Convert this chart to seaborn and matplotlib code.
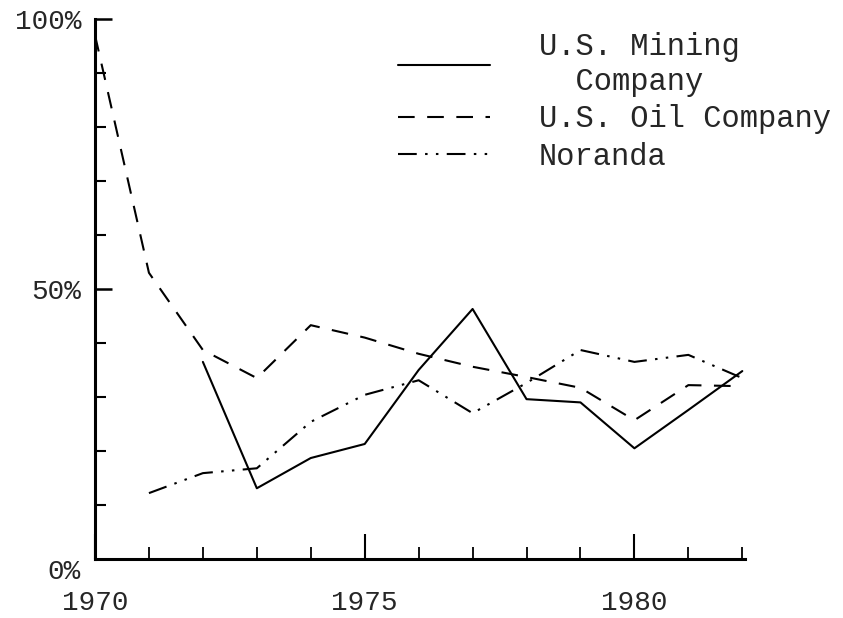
import numpy as np
import pandas as pd
import matplotlib
matplotlib.use("Agg")
import matplotlib.pyplot as plt
from matplotlib.ticker import MultipleLocator, FixedLocator
import seaborn as sns

# values (percent)
MINING_YEARS = [1972, 1973, 1974, 1975, 1976, 1977, 1978, 1979, 1980, 1981, 1982]
MINING = [36.5, 13.1, 18.7, 21.3, 35.0, 46.3, 29.6, 29.0, 20.5, 27.6, 34.8]

OIL_YEARS = [1970, 1971, 1972, 1973, 1974, 1975, 1976, 1977, 1978, 1979, 1980, 1981, 1982]
OIL = [97.0, 53.0, 38.7, 33.5, 43.3, 41.0, 38.0, 35.6, 33.7, 31.7, 25.7, 32.2, 32.0]

NORANDA_YEARS = [1971, 1972, 1973, 1974, 1975, 1976, 1977, 1978, 1979, 1980, 1981, 1982]
NORANDA = [12.2, 15.9, 16.8, 25.4, 30.4, 33.1, 27.0, 32.6, 38.7, 36.5, 37.8, 33.5]

LABELS = ["U.S. Mining\n  Company", "U.S. Oil Company", "Noranda"]
X_TICKS = [1970, 1975, 1980]
Y_TICKS = [0, 50, 100]
Y_TICK_LABELS = ["0%", "50%", "100%"]

frames = []
for label, years, vals in zip(LABELS, [MINING_YEARS, OIL_YEARS, NORANDA_YEARS],
                              [MINING, OIL, NORANDA]):
    frames.append(pd.DataFrame({"year": years, "share": vals, "company": label}))
df = pd.concat(frames, ignore_index=True)

sns.set_style("white")
plt.rcParams["font.family"] = ["Liberation Mono", "DejaVu Sans Mono"]

fig = plt.figure(figsize=(8.43, 6.18), dpi=100)
ax = fig.add_axes([95 / 843, 1 - 559 / 618, 650 / 843, 540 / 618])

dashes = {LABELS[0]: "", LABELS[1]: (8, 6), LABELS[2]: (9, 4, 1.2, 4, 1.2, 4)}
sns.lineplot(data=df, x="year", y="share", style="company", dashes=dashes,
             color="black", linewidth=1.5, estimator=None, sort=False, ax=ax)

ax.set_xlim(1970, 1982.05)
ax.set_ylim(0, 100)
ax.set_xlabel("")
ax.set_ylabel("")

for side in ["top", "right"]:
    ax.spines[side].set_visible(False)
for side in ["left", "bottom"]:
    ax.spines[side].set_linewidth(2.2)
    ax.spines[side].set_color("black")

ax.xaxis.set_major_locator(FixedLocator(X_TICKS))
ax.xaxis.set_minor_locator(MultipleLocator(1))
ax.set_xticklabels([str(x) for x in X_TICKS])
ax.yaxis.set_major_locator(FixedLocator(Y_TICKS))
ax.yaxis.set_minor_locator(MultipleLocator(10))
ax.set_yticklabels(Y_TICK_LABELS)

ax.tick_params(axis="x", which="both", bottom=True, color="black")
ax.tick_params(axis="y", which="both", left=True, color="black")
ax.tick_params(axis="x", which="major", direction="in", length=18, width=1.5,
               pad=22, labelsize=20)
ax.tick_params(axis="x", which="minor", direction="in", length=9, width=1.3)
ax.tick_params(axis="y", which="major", direction="in", length=12, width=1.8,
               pad=10, labelsize=20)
ax.tick_params(axis="y", which="minor", direction="in", length=8, width=1.5)
for lab in ax.get_yticklabels():
    if lab.get_text() == "0%":
        lab.set_va("top")

handles, labels = ax.get_legend_handles_labels()
ax.legend(handles, labels, loc="upper left", bbox_to_anchor=(398 / 843, 1 - 32 / 618),
          bbox_transform=fig.transFigure, frameon=False, fontsize=22,
          handlelength=3.0, handletextpad=1.6, labelspacing=0.25, borderpad=0,
          borderaxespad=0)

fig.savefig("out.png", dpi=100)
